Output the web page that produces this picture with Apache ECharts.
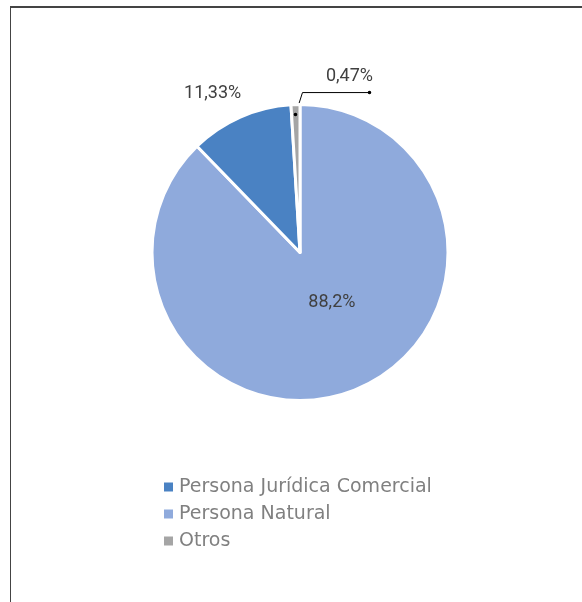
<!DOCTYPE html>
<html><head><meta charset="utf-8">
<script src="https://cdn.jsdelivr.net/npm/echarts@6/dist/echarts.min.js"></script>
<style>
html,body{margin:0;padding:0;background:#fff;}
#frame{position:absolute;left:10px;top:6px;width:580px;height:600px;border-top:2px solid #444;border-left:1.5px solid #444;box-sizing:border-box;}
#chart{position:absolute;left:0;top:0;width:582px;height:602px;}
</style></head>
<body>
<div id="frame"></div>
<div id="chart"></div>
<script>
const categories = ['Persona Natural', 'Persona Jurídica Comercial', 'Otros'];
const values = [88.2, 11.33, 0.47];
const legendOrder = ['Persona Jurídica Comercial', 'Persona Natural', 'Otros'];
const colors = ['#8FAADC', '#4A82C3', '#A5A5A5'];

const fmt = v => String(v).replace('.', ',') + '%';

const chart = echarts.init(document.getElementById('chart'));
let otrosPts = null;
const data = categories.map((c, i) => {
  const d = { name: c, value: values[i], itemStyle: { color: colors[i] } };
  if (i === 0) d.label = { position: 'inside', offset: [3, -21] };
  if (i === 1) d.labelLine = { show: false, length: 10, length2: 0 };
  return d;
});
const option = {
  animation: false,
  legend: {
    orient: 'vertical', left: 157, top: 472,
    data: legendOrder,
    icon: 'rect', itemWidth: 11, itemHeight: 11, itemGap: 7,
    textStyle: { fontFamily: 'DejaVu Sans', fontSize: 19, color: '#808080', lineHeight: 20 }
  },
  series: [{
    type: 'pie',
    center: [300, 252.5], radius: 148,
    startAngle: 90, clockwise: true, minAngle: 3.5,
    avoidLabelOverlap: false,
    itemStyle: { borderColor: '#fff', borderWidth: 3 },
    label: {
      formatter: p => fmt(p.value),
      fontFamily: 'Roboto', fontSize: 18, color: '#404040'
    },
    labelLine: { length: 12, length2: 60, lineStyle: { color: '#000', width: 1 } },
    labelLayout: function (params) {
      if (params.dataIndex === 1) {
        return { dx: 5, dy: -7 };
      }
      if (params.dataIndex === 2 && params.labelLinePoints) {
        const p = params.labelLinePoints[0];
        otrosPts = [[p[0], p[1] + 10], [p[0] + 7, p[1] - 12], [p[0] + 74, p[1] - 12]];
        return {
          x: p[0] + 54, y: p[1] - 28, align: 'center', verticalAlign: 'middle',
          labelLinePoints: otrosPts
        };
      }
    },
    data: data
  }]
};
chart.setOption(option);
if (otrosPts) {
  chart.setOption({
    graphic: [otrosPts[0], otrosPts[2]].map(pt => ({
      type: 'circle', shape: { cx: pt[0], cy: pt[1], r: 1.8 },
      style: { fill: '#000' }, z: 100
    }))
  });
}
</script>
</body></html>
